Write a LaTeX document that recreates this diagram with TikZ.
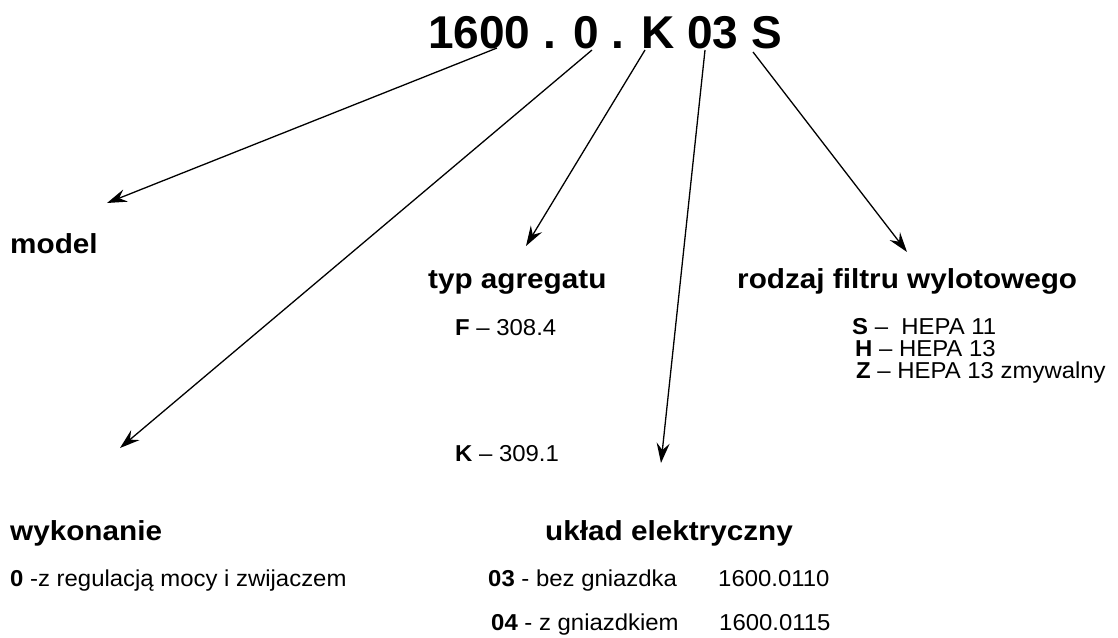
\documentclass[tikz,border=0pt]{standalone}
\usepackage{fontspec}
\setmainfont{Liberation Sans}
\newfontfamily\labfont[FakeStretch=1.08]{Liberation Sans}
\newfontfamily\txtfont[FakeStretch=1.04]{Liberation Sans}
\usetikzlibrary{arrows.meta}
\begin{document}
\begin{tikzpicture}[x=1pt,y=-1pt,
  lab/.style={anchor=base west,inner sep=0pt,font=\labfont\fontsize{27.5}{32}\selectfont\bfseries},
  txt/.style={anchor=base west,inner sep=0pt,font=\txtfont\fontsize{23}{27}\selectfont},
  arr/.style={line width=1.3pt,-{Stealth[length=20pt,width=13pt,inset=7pt]}}]
\useasboundingbox (0,0) rectangle (1118,637);
\node[anchor=base,inner sep=0pt,font=\fontsize{46}{52}\selectfont\bfseries] (title) at (605,48) {1600 . 0 . K 03 S};
\coordinate (s1) at (497,48); \coordinate (e1) at (107,203);
\coordinate (s2) at (592,50); \coordinate (e2) at (120,448);
\coordinate (s3) at (645,50); \coordinate (e3) at (526,246);
\coordinate (s4) at (705,50); \coordinate (e4) at (661,463);
\coordinate (s5) at (753,52); \coordinate (e5) at (907,252);
\draw[arr] (s1) -- (e1);
\draw[arr] (s2) -- (e2);
\draw[arr] (s3) -- (e3);
\draw[arr] (s4) -- (e4);
\draw[arr] (s5) -- (e5);
\node[lab] (model) at (10,253) {model};
\node[lab] (typ) at (428,288) {typ agregatu};
\node[lab] (rodz) at (737,288) {rodzaj filtru wylotowego};
\node[lab] (wyk) at (10,540) {wykonanie};
\node[lab] (ukl) at (545,540) {układ elektryczny};
\node[txt] (f) at (455,335) {\textbf{F} – 308.4};
\node[txt] (k) at (455,461) {\textbf{K} – 309.1};
\node[txt] (s) at (852,334) {\textbf{S} –\ \ HEPA 11};
\node[txt] (h) at (855,356) {\textbf{H} – HEPA 13};
\node[txt] (z) at (856,378) {\textbf{Z} – HEPA 13 zmywalny};
\node[txt] (w0) at (10,586) {\textbf{0} -z regulacją mocy i zwijaczem};
\node[txt] (u3) at (488,586) {\textbf{03} - bez gniazdka};
\node[txt] (n3) at (718,586) {1600.0110};
\node[txt] (u4) at (491,630) {\textbf{04} - z gniazdkiem};
\node[txt] (n4) at (719,630) {1600.0115};
\end{tikzpicture}
\end{document}
